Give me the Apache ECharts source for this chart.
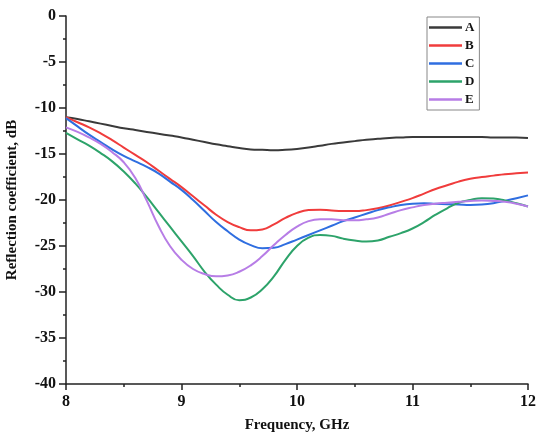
<!DOCTYPE html>
<html>
<head>
<meta charset="utf-8">
<script src="https://cdn.jsdelivr.net/npm/echarts@6/dist/echarts.min.js"></script>
<style>html,body{margin:0;padding:0;background:#fff}#c{width:536px;height:437px}</style>
</head>
<body>
<div id="c"></div>
<script>
const freq = [8.0,8.1,8.2,8.3,8.4,8.5,8.6,8.7,8.8,8.9,9.0,9.1,9.2,9.3,9.4,9.5,9.6,9.7,9.8,9.9,10.0,10.1,10.2,10.3,10.4,10.5,10.6,10.7,10.8,10.9,11.0,11.1,11.2,11.3,11.4,11.5,11.6,11.7,11.8,11.9,12.0];
const seriesNames = ['A','B','C','D','E'];
const valuesA = [-11.0,-11.2,-11.45,-11.7,-11.95,-12.2,-12.4,-12.6,-12.8,-13.0,-13.2,-13.45,-13.7,-13.95,-14.15,-14.35,-14.5,-14.55,-14.6,-14.55,-14.45,-14.3,-14.1,-13.9,-13.75,-13.6,-13.45,-13.35,-13.25,-13.2,-13.15,-13.15,-13.15,-13.15,-13.15,-13.15,-13.15,-13.2,-13.2,-13.2,-13.25];
const valuesB = [-11.0,-11.55,-12.1,-12.75,-13.5,-14.3,-15.1,-15.9,-16.8,-17.7,-18.6,-19.6,-20.6,-21.6,-22.4,-22.95,-23.3,-23.2,-22.65,-21.95,-21.4,-21.1,-21.05,-21.15,-21.2,-21.2,-21.1,-20.9,-20.6,-20.2,-19.8,-19.3,-18.8,-18.4,-18.0,-17.7,-17.5,-17.35,-17.2,-17.1,-17.0];
const valuesC = [-11.1,-12.0,-12.9,-13.7,-14.5,-15.2,-15.8,-16.4,-17.1,-18.0,-18.9,-20.0,-21.2,-22.4,-23.4,-24.3,-24.9,-25.25,-25.2,-24.8,-24.3,-23.8,-23.3,-22.8,-22.3,-21.9,-21.5,-21.1,-20.8,-20.55,-20.4,-20.35,-20.4,-20.45,-20.5,-20.55,-20.5,-20.35,-20.1,-19.8,-19.5];
const valuesD = [-12.7,-13.4,-14.1,-14.9,-15.8,-16.9,-18.2,-19.7,-21.3,-22.9,-24.5,-26.1,-27.8,-29.2,-30.3,-30.9,-30.6,-29.7,-28.3,-26.5,-25.0,-24.1,-23.8,-23.9,-24.2,-24.4,-24.5,-24.4,-24.0,-23.6,-23.1,-22.4,-21.6,-20.9,-20.3,-20.0,-19.8,-19.85,-20.05,-20.35,-20.7];
const valuesE = [-12.1,-12.6,-13.2,-13.9,-14.8,-15.9,-17.6,-20.1,-22.8,-25.0,-26.5,-27.5,-28.05,-28.3,-28.2,-27.8,-27.1,-26.1,-24.9,-23.8,-22.9,-22.3,-22.1,-22.1,-22.2,-22.2,-22.1,-21.9,-21.5,-21.1,-20.8,-20.55,-20.4,-20.3,-20.2,-20.1,-20.05,-20.1,-20.2,-20.4,-20.7];
const colors = ['#3a3a3a','#f03c3c','#2f6ee0','#2da36a','#b77de6'];
const allValues = [valuesA,valuesB,valuesC,valuesD,valuesE];

const font = '"Liberation Serif","Times New Roman",serif';
const chart = echarts.init(document.getElementById('c'));
chart.setOption({
  animation:false,
  backgroundColor:'#fff',
  grid:{left:66,right:8,top:16,bottom:53,containLabel:false,outerBoundsMode:'none'},
  legend:{
    orient:'vertical', left:427, top:17,
    data: seriesNames,
    icon:'rect', itemWidth:33, itemHeight:2.5, itemGap:5,
    borderColor:'#888', borderWidth:1, padding:[4,5,4,2],
    textStyle:{fontFamily:font, fontWeight:'bold', fontSize:13, color:'#111', padding:[0,0,0,-2]}
  },
  xAxis:{
    type:'value', min:8, max:12, interval:1,
    name:'Frequency, GHz', nameLocation:'middle', nameGap:34,
    nameTextStyle:{fontFamily:font, fontWeight:'bold', fontSize:15, color:'#111'},
    axisLine:{show:true, onZero:false, lineStyle:{color:'#222', width:1.5}},
    axisTick:{show:true, inside:false, length:6, lineStyle:{color:'#222', width:1.5}},
    minorTick:{show:true, splitNumber:2, length:3, lineStyle:{color:'#222', width:1.5}},
    splitLine:{show:false},
    axisLabel:{fontFamily:font, fontWeight:'bold', fontSize:16, color:'#111', margin:10}
  },
  yAxis:{
    type:'value', min:-40, max:0, interval:5,
    name:'Reflection coefficient, dB', nameLocation:'middle', nameGap:46,
    nameTextStyle:{fontFamily:font, fontWeight:'bold', fontSize:15, color:'#111'},
    axisLine:{show:true, onZero:false, lineStyle:{color:'#222', width:1.5}},
    axisTick:{show:true, inside:false, length:7, lineStyle:{color:'#222', width:1.5}},
    minorTick:{show:true, splitNumber:2, length:3, lineStyle:{color:'#222', width:1.5}},
    splitLine:{show:false},
    axisLabel:{fontFamily:font, fontWeight:'bold', fontSize:16, color:'#111', margin:10}
  },
  series: seriesNames.map((n,i)=>({
    name:n, type:'line', smooth:true, symbol:'none', showSymbol:false,
    data: freq.map((f,k)=>[f, allValues[i][k]]),
    lineStyle:{color:colors[i], width:2},
    itemStyle:{color:colors[i]}
  }))
});
</script>
</body>
</html>
